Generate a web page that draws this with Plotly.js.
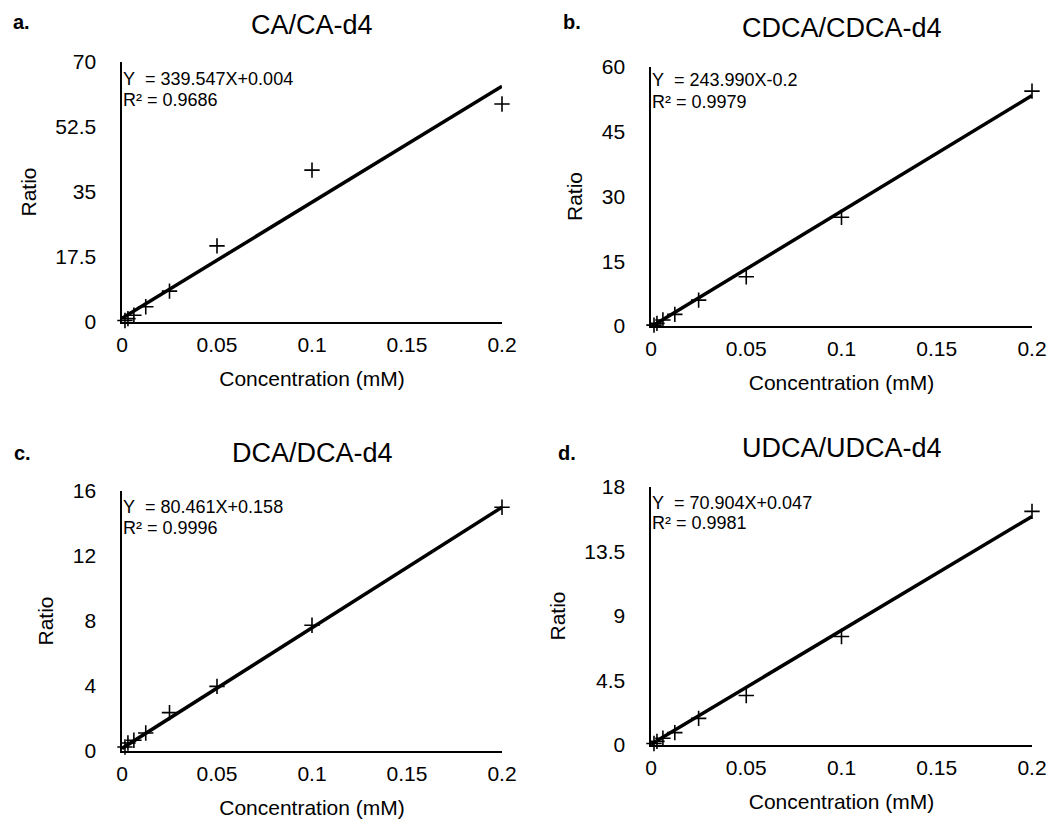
<!DOCTYPE html>
<html>
<head>
<meta charset="utf-8">
<script src="https://cdn.plot.ly/plotly-3.0.1.min.js"></script>
<style>html,body{margin:0;padding:0;background:#fff;}#chart{width:1060px;height:825px;}</style>
</head>
<body>
<div id="chart"></div>
<script>
// ---- data ----
var panelLetters = ["a.", "b.", "c.", "d."];
var panelTitles = ["CA/CA-d4", "CDCA/CDCA-d4", "DCA/DCA-d4", "UDCA/UDCA-d4"];
var equations = ["Y\u00a0\u00a0= 339.547X+0.004", "Y\u00a0\u00a0= 243.990X-0.2", "Y\u00a0\u00a0= 80.461X+0.158", "Y\u00a0\u00a0= 70.904X+0.047"];
var r2Texts = ["R\u00b2 = 0.9686", "R\u00b2 = 0.9979", "R\u00b2 = 0.9996", "R\u00b2 = 0.9981"];
var xTitle = "Concentration (mM)";
var yTitle = "Ratio";

var concentration = [0.2, 0.1, 0.05, 0.025, 0.0125, 0.00625, 0.003125, 0.0015625];
var ratioCA   = [58.7, 40.9, 20.5, 8.3, 4.1, 1.8, 0.9, 0.4];
var ratioCDCA = [54.4, 25.2, 11.4, 6.0, 2.7, 1.4, 0.6, 0.2];
var ratioDCA  = [15.0, 7.74, 3.98, 2.36, 1.11, 0.66, 0.49, 0.25];
var ratioUDCA = [16.3, 7.57, 3.45, 1.86, 0.86, 0.47, 0.25, 0.1];

var fitX = [0, 0.2];
var fitCA   = [1.0, 63.5];
var fitCDCA = [-0.2, 53.4];
var fitDCA  = [0.158, 15.0];
var fitUDCA = [0.05, 15.95];

var yTicksCA   = [0, 17.5, 35, 52.5, 70];
var yTicksCDCA = [0, 15, 30, 45, 60];
var yTicksDCA  = [0, 4, 8, 12, 16];
var yTicksUDCA = [0, 4.5, 9, 13.5, 18];
var xTicks = [0, 0.05, 0.1, 0.15, 0.2];

// ---- layout ----
var W = 1060, H = 825;
function px(x){ return x / W; }
function py(y){ return 1 - y / H; }

var ratios = [ratioCA, ratioCDCA, ratioDCA, ratioUDCA];
var fits = [fitCA, fitCDCA, fitDCA, fitUDCA];
var yTicks = [yTicksCA, yTicksCDCA, yTicksDCA, yTicksUDCA];
// plot boxes in pixels: [left, right, top, bottom]
var boxes = [[122, 502, 62, 322], [651, 1032, 67, 326], [122, 502, 491, 751], [651, 1032, 487, 745]];
var titleY = [25, 28, 453, 448];
var letterPos = [[11, 22], [561, 22], [12, 453], [556, 453]];
var eqY = [[79, 100], [80, 102], [507, 528], [503, 523]];

var FONT = "Liberation Sans, Arial, Helvetica, sans-serif";
var traces = [];
var layout = {
  width: W, height: H,
  margin: {l: 0, r: 0, t: 0, b: 0},
  paper_bgcolor: "#fff", plot_bgcolor: "#fff",
  showlegend: false,
  font: {family: FONT, color: "#000", size: 21},
  annotations: []
};

for (var i = 0; i < 4; i++) {
  var s = i === 0 ? "" : String(i + 1);
  var b = boxes[i];
  traces.push({
    x: fitX, y: fits[i], xaxis: "x" + s, yaxis: "y" + s,
    mode: "lines", line: {color: "#000", width: 3.5}, hoverinfo: "skip"
  });
  traces.push({
    x: concentration, y: ratios[i], xaxis: "x" + s, yaxis: "y" + s,
    mode: "markers", cliponaxis: false,
    marker: {symbol: "cross-thin", size: 11, line: {color: "#000", width: 1.6}}
  });
  var yt = yTicks[i];
  layout["xaxis" + s] = {
    domain: [px(b[0]), px(b[1])], anchor: "y" + s,
    range: [0, 0.2], tickvals: xTicks, ticktext: xTicks.map(String),
    showline: true, linecolor: "#000", linewidth: 1.6, showgrid: false, zeroline: false,
    ticks: "", ticklabelstandoff: 3, tickfont: {size: 21, family: FONT},
    title: {text: xTitle, font: {size: 21, family: FONT}, standoff: 16}
  };
  layout["yaxis" + s] = {
    domain: [py(b[3]), py(b[2])], anchor: "x" + s,
    range: [0, yt[yt.length - 1]], tickvals: yt, ticktext: yt.map(String),
    showline: true, linecolor: "#000", linewidth: 1.6, showgrid: false, zeroline: false,
    ticks: "", ticklabelstandoff: 20, tickfont: {size: 21, family: FONT},
    title: {text: yTitle, font: {size: 21, family: FONT}, standoff: 13}
  };
  layout.annotations.push({
    xref: "paper", yref: "paper", x: px((b[0] + b[1]) / 2), y: py(titleY[i]),
    xanchor: "center", yanchor: "middle", showarrow: false,
    text: panelTitles[i], font: {size: 27, family: FONT}
  });
  layout.annotations.push({
    xref: "paper", yref: "paper", x: px(letterPos[i][0]), y: py(letterPos[i][1]),
    xanchor: "left", yanchor: "middle", showarrow: false,
    text: "<b>" + panelLetters[i] + "</b>", font: {size: 20, family: FONT}
  });
  layout.annotations.push({
    xref: "paper", yref: "paper", x: px(b[0] - 1), y: py(eqY[i][0]),
    xanchor: "left", yanchor: "middle", showarrow: false,
    text: equations[i], font: {size: 18, family: FONT}
  });
  layout.annotations.push({
    xref: "paper", yref: "paper", x: px(b[0] - 1), y: py(eqY[i][1]),
    xanchor: "left", yanchor: "middle", showarrow: false,
    text: r2Texts[i], font: {size: 18, family: FONT}
  });
}

Plotly.newPlot("chart", traces, layout, {displayModeBar: false, staticPlot: true});
</script>
</body>
</html>
